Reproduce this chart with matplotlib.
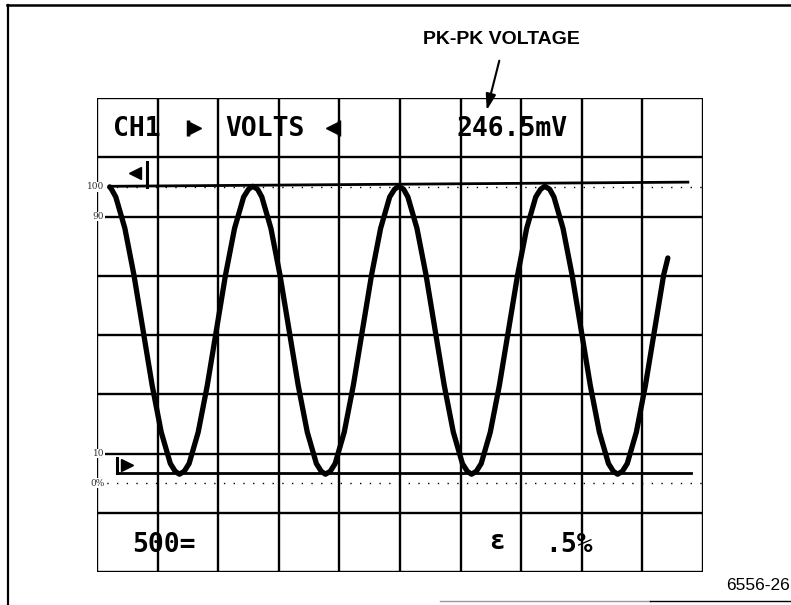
import matplotlib
matplotlib.use("Agg")
import matplotlib.pyplot as plt
from matplotlib.lines import Line2D
from matplotlib.patches import FancyArrowPatch

# scope trace in graticule divisions (x 0..10, y 0..8)
trace_x = [0.21, 0.24, 0.31, 0.46, 0.61, 0.76, 0.91, 1.06, 1.21, 1.29, 1.36, 1.44, 1.52, 1.67, 1.82, 1.97, 2.12,
           2.27, 2.42, 2.50, 2.57, 2.65, 2.72, 2.87, 3.02, 3.17, 3.32, 3.47, 3.62, 3.70, 3.77, 3.85, 3.93,
           4.08, 4.23, 4.38, 4.53, 4.68, 4.83, 4.91, 4.98, 5.06, 5.13, 5.28, 5.43, 5.58, 5.73, 5.88, 6.03,
           6.11, 6.18, 6.26, 6.34, 6.49, 6.64, 6.79, 6.94, 7.09, 7.24, 7.32, 7.39, 7.47, 7.54, 7.69, 7.84,
           7.99, 8.14, 8.29, 8.44, 8.52, 8.59, 8.67, 8.75, 8.90, 9.05, 9.20, 9.35, 9.42]
trace_y = [6.50, 6.46, 6.33, 5.80, 5.01, 4.08, 3.15, 2.36, 1.83, 1.70, 1.65, 1.70, 1.83, 2.36, 3.15, 4.08, 5.01,
           5.80, 6.33, 6.46, 6.51, 6.46, 6.33, 5.80, 5.01, 4.08, 3.15, 2.36, 1.83, 1.70, 1.65, 1.70, 1.83,
           2.36, 3.15, 4.08, 5.01, 5.80, 6.33, 6.46, 6.51, 6.46, 6.33, 5.80, 5.01, 4.08, 3.15, 2.36, 1.83,
           1.70, 1.65, 1.70, 1.83, 2.36, 3.15, 4.08, 5.01, 5.80, 6.33, 6.46, 6.51, 6.46, 6.33, 5.80, 5.01,
           4.08, 3.15, 2.36, 1.83, 1.70, 1.65, 1.70, 1.83, 2.36, 3.15, 4.08, 5.01, 5.30]

# measurement cursors
upper_cursor_x = [0.25, 9.75]
upper_cursor_y = [6.51, 6.58]
lower_cursor_x = [0.33, 9.80]
lower_cursor_y = [1.67, 1.67]

# percent levels on the left edge
level_y = [6.5, 6.0, 2.0, 1.5]
level_labels = ["100", "90", "10", "0%"]
dotted_levels = [6.5, 1.5]

readout_ch = "CH1"
readout_mode = "VOLTS"
readout_value = "246.5mV"
readout_time = "500="
readout_misc = ["ε", ".5%"]

fig = plt.figure(figsize=(7.91, 6.05), dpi=100)
fig.patch.set_facecolor("white")

# outer frame of the page
fig.add_artist(Line2D([8 / 791, 8 / 791], [0, 1 - 5 / 605], transform=fig.transFigure, color="black", lw=1.6))
fig.add_artist(Line2D([7 / 791, 1], [1 - 5 / 605, 1 - 5 / 605], transform=fig.transFigure, color="black", lw=1.8))
fig.add_artist(Line2D([440 / 791, 650 / 791], [1 - 601 / 605] * 2, transform=fig.transFigure, color="#999999", lw=1))
fig.add_artist(Line2D([650 / 791, 1], [1 - 601 / 605] * 2, transform=fig.transFigure, color="black", lw=1))

ax = fig.add_axes([97 / 791, 33 / 605, 606 / 791, 474 / 605])
ax.set_xlim(0, 10)
ax.set_ylim(0, 8)
ax.axis("off")

# graticule
for gx in range(11):
    ax.axvline(gx, color="black", lw=1.7)
for gy in range(9):
    ax.axhline(gy, color="black", lw=1.7)
for lv in dotted_levels:
    ax.axhline(lv, color="black", lw=1.0, linestyle=(0, (1, 6)))

for y, lab in zip(level_y, level_labels):
    ax.text(0.12, y, lab, ha="right", va="center", fontsize=6.5, color="#333333", family="DejaVu Serif",
            bbox=dict(facecolor="white", edgecolor="none", pad=0.3))

# cursors + their flags
ax.plot(upper_cursor_x, upper_cursor_y, color="black", lw=2.0)
ax.plot(lower_cursor_x, lower_cursor_y, color="black", lw=2.0)
ax.plot([0.83, 0.83], [6.5, 6.92], color="black", lw=2.2)
ax.plot([0.62], [6.74], marker="<", color="black", markersize=9)
ax.plot([0.33, 0.33], [1.67, 1.92], color="black", lw=2.2)
ax.plot([0.50], [1.80], marker=">", color="black", markersize=9)

# the trace
ax.plot(trace_x, trace_y, color="black", lw=3.8, solid_capstyle="round", solid_joinstyle="round")

# readouts
mono = dict(family="DejaVu Sans Mono", weight="bold", fontsize=19, va="center", color="black")
ax.text(0.26, 7.48, readout_ch, ha="left", **mono)
ax.text(2.12, 7.48, readout_mode, ha="left", **mono)
ax.text(5.94, 7.48, readout_value, ha="left", **mono)
ax.text(0.58, 0.46, readout_time, ha="left", **mono)
ax.text(6.6, 0.5, readout_misc[0], ha="center", **mono)
ax.text(7.4, 0.46, readout_misc[1], ha="left", **mono)

ax.plot([1.50], [7.49], marker="|", color="black", markersize=12, mew=2.5)
ax.plot([1.62], [7.49], marker=">", color="black", markersize=8)
ax.plot([3.88], [7.49], marker="<", color="black", markersize=8)
ax.plot([4.00], [7.49], marker="|", color="black", markersize=12, mew=2.5)

# annotation above the screen
fig.text(501 / 791, 1 - 40 / 605, "PK-PK VOLTAGE", ha="center", va="center",
         family="Liberation Sans", weight="bold", fontsize=14)
fig.add_artist(FancyArrowPatch(
    (500 / 791, 1 - 58 / 605), (486 / 791, 1 - 113 / 605), transform=fig.transFigure,
    arrowstyle="-|>,head_length=0.8,head_width=0.25", mutation_scale=12, color="black", lw=1.5))

fig.text(790 / 791, 1 - 585 / 605, "6556-26", ha="right", va="center",
         family="Liberation Sans", fontsize=12.5)

fig.savefig("out.png", dpi=100)
